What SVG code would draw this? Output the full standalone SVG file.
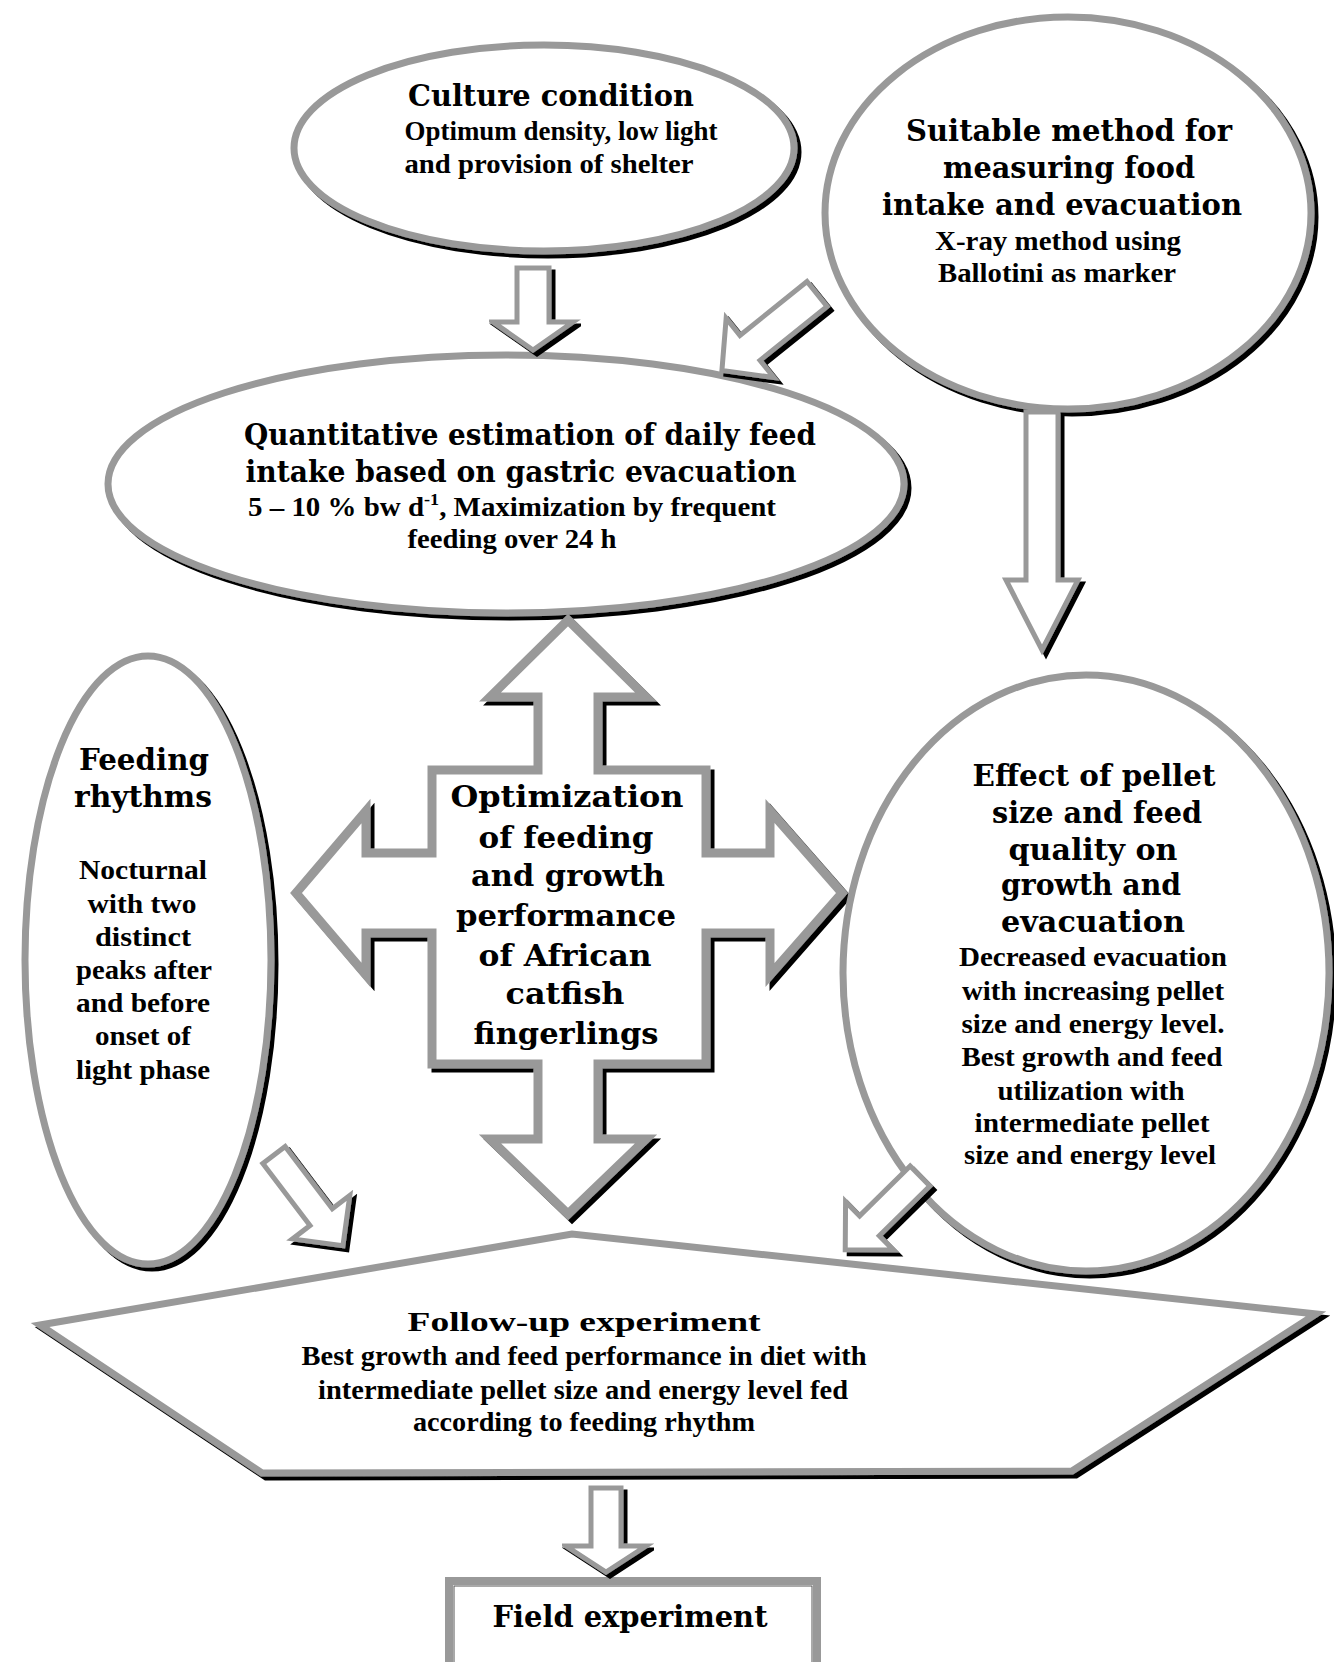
<svg xmlns="http://www.w3.org/2000/svg" width="1334" height="1662" viewBox="0 0 1334 1662">
<defs>
<filter id="sh" x="-5%" y="-5%" width="115%" height="115%">
<feOffset in="SourceAlpha" dx="4" dy="4" result="o"/>
<feMerge><feMergeNode in="o"/><feMergeNode in="SourceGraphic"/></feMerge>
</filter>
<style>
.shape{fill:#fff;stroke:#999;stroke-width:7}
.cross{fill:#fff;stroke:#999;stroke-width:9;stroke-linejoin:miter}
.arrow{fill:#fff;stroke:#999;stroke-width:5;stroke-linejoin:miter}
.h{font-family:"DejaVu Serif","Liberation Serif",serif;font-weight:bold;font-size:29px;text-anchor:middle;fill:#000}
.b{font-family:"Liberation Serif","Times New Roman",serif;font-weight:bold;font-size:27px;text-anchor:middle;fill:#000}
</style>
</defs>
<rect width="1334" height="1662" fill="#fff"/>

<g id="culture">
<ellipse class="shape" cx="544" cy="148" rx="250" ry="103" filter="url(#sh)"/>
<text class="h" x="551" y="106" textLength="286" lengthAdjust="spacingAndGlyphs">Culture condition</text>
<text class="b" x="561" y="140" textLength="313" lengthAdjust="spacingAndGlyphs">Optimum density, low light</text>
<text class="b" x="549" y="173" textLength="289" lengthAdjust="spacingAndGlyphs">and provision of shelter</text>
</g>

<g id="method">
<ellipse class="shape" cx="1068" cy="213" rx="243" ry="196" filter="url(#sh)"/>
<text class="h" x="1069" y="141" textLength="326" lengthAdjust="spacingAndGlyphs">Suitable method for</text>
<text class="h" x="1069" y="178" textLength="252" lengthAdjust="spacingAndGlyphs">measuring food</text>
<text class="h" x="1062" y="215" textLength="360" lengthAdjust="spacingAndGlyphs">intake and evacuation</text>
<text class="b" x="1058" y="250" textLength="246" lengthAdjust="spacingAndGlyphs">X-ray method using</text>
<text class="b" x="1057" y="282" textLength="238" lengthAdjust="spacingAndGlyphs">Ballotini as marker</text>
</g>

<g id="quantitative">
<ellipse class="shape" cx="506" cy="484" rx="398" ry="129" filter="url(#sh)"/>
<text class="h" x="530" y="445" textLength="572" lengthAdjust="spacingAndGlyphs">Quantitative estimation of daily feed</text>
<text class="h" x="521" y="482" textLength="551" lengthAdjust="spacingAndGlyphs">intake based on gastric evacuation</text>
<text class="b" x="512" y="516" textLength="528" lengthAdjust="spacingAndGlyphs">5 – 10 % bw d<tspan dy="-11" font-size="17">-1</tspan><tspan dy="11">, Maximization by frequent</tspan></text>
<text class="b" x="512" y="548" textLength="209" lengthAdjust="spacingAndGlyphs">feeding over 24 h</text>
</g>

<g id="optimization">
<g filter="url(#sh)"><polygon class="cross" points="568,620 646,697 598,697 598,770 706,770 706,853 770,853 770,811 842,893 770,975 770,933 706,933 706,1064 598,1064 598,1139 646,1139 568,1214 490,1139 538,1139 538,1064 432,1064 432,933 366,933 366,975 296,893 366,811 366,853 432,853 432,770 538,770 538,697 490,697"/></g>
<text class="h" x="567" y="807" font-size="31" textLength="233" lengthAdjust="spacingAndGlyphs">Optimization</text>
<text class="h" x="566" y="848" font-size="31" textLength="175" lengthAdjust="spacingAndGlyphs">of feeding</text>
<text class="h" x="568" y="886" font-size="31" textLength="194" lengthAdjust="spacingAndGlyphs">and growth</text>
<text class="h" x="566" y="926" font-size="31" textLength="220" lengthAdjust="spacingAndGlyphs">performance</text>
<text class="h" x="565" y="966" font-size="31" textLength="173" lengthAdjust="spacingAndGlyphs">of African</text>
<text class="h" x="565" y="1004" font-size="31" textLength="119" lengthAdjust="spacingAndGlyphs">catfish</text>
<text class="h" x="566" y="1044" font-size="31" textLength="185" lengthAdjust="spacingAndGlyphs">fingerlings</text>
</g>

<g id="rhythms">
<ellipse class="shape" cx="148" cy="960" rx="123" ry="304" filter="url(#sh)"/>
<text class="h" x="144" y="770" textLength="130" lengthAdjust="spacingAndGlyphs">Feeding</text>
<text class="h" x="143" y="807" textLength="138" lengthAdjust="spacingAndGlyphs">rhythms</text>
<text class="b" x="143" y="879" textLength="128" lengthAdjust="spacingAndGlyphs">Nocturnal</text>
<text class="b" x="142" y="913" textLength="109" lengthAdjust="spacingAndGlyphs">with two</text>
<text class="b" x="143" y="946" textLength="96" lengthAdjust="spacingAndGlyphs">distinct</text>
<text class="b" x="144" y="979" textLength="136" lengthAdjust="spacingAndGlyphs">peaks after</text>
<text class="b" x="143" y="1012" textLength="134" lengthAdjust="spacingAndGlyphs">and before</text>
<text class="b" x="143" y="1045" textLength="96" lengthAdjust="spacingAndGlyphs">onset of</text>
<text class="b" x="143" y="1079" textLength="134" lengthAdjust="spacingAndGlyphs">light phase</text>
</g>

<g id="effect">
<ellipse class="shape" cx="1086" cy="973" rx="243" ry="298" filter="url(#sh)"/>
<text class="h" x="1094" y="786" textLength="243" lengthAdjust="spacingAndGlyphs">Effect of pellet</text>
<text class="h" x="1097" y="823" textLength="210" lengthAdjust="spacingAndGlyphs">size and feed</text>
<text class="h" x="1093" y="860" textLength="169" lengthAdjust="spacingAndGlyphs">quality on</text>
<text class="h" x="1091" y="895" textLength="180" lengthAdjust="spacingAndGlyphs">growth and</text>
<text class="h" x="1093" y="932" textLength="184" lengthAdjust="spacingAndGlyphs">evacuation</text>
<text class="b" x="1093" y="966" textLength="268" lengthAdjust="spacingAndGlyphs">Decreased evacuation</text>
<text class="b" x="1093" y="1000" textLength="262" lengthAdjust="spacingAndGlyphs">with increasing pellet</text>
<text class="b" x="1093" y="1033" textLength="263" lengthAdjust="spacingAndGlyphs">size and energy level.</text>
<text class="b" x="1092" y="1066" textLength="261" lengthAdjust="spacingAndGlyphs">Best growth and feed</text>
<text class="b" x="1091" y="1100" textLength="187" lengthAdjust="spacingAndGlyphs">utilization with</text>
<text class="b" x="1092" y="1132" textLength="235" lengthAdjust="spacingAndGlyphs">intermediate pellet</text>
<text class="b" x="1090" y="1164" textLength="252" lengthAdjust="spacingAndGlyphs">size and energy level</text>
</g>

<g id="followup">
<polygon class="shape" points="40,1325 572,1234 1316,1314 1072,1471 262,1473" filter="url(#sh)"/>
<text class="b" x="584" y="1331" font-size="30" textLength="353" lengthAdjust="spacingAndGlyphs">Follow-up experiment</text>
<text class="b" x="584" y="1365" textLength="565" lengthAdjust="spacingAndGlyphs">Best growth and feed performance in diet with</text>
<text class="b" x="583" y="1399" textLength="530" lengthAdjust="spacingAndGlyphs">intermediate pellet size and energy level fed</text>
<text class="b" x="584" y="1431" textLength="342" lengthAdjust="spacingAndGlyphs">according to feeding rhythm</text>
</g>

<g id="field">
<rect x="449" y="1581" width="368" height="92" fill="#fff" stroke="#999" stroke-width="8"/>
<rect x="454" y="1586" width="358" height="82" fill="none" stroke="#555" stroke-width="1"/>
<text class="h" x="630" y="1627" textLength="275" lengthAdjust="spacingAndGlyphs">Field experiment</text>
</g>

<g id="connectors">
<g filter="url(#sh)"><polygon class="arrow" transform="translate(533,268) rotate(90)" points="0,-16 54,-16 54,-40 82,0 54,40 54,16 0,16"/></g>
<g filter="url(#sh)"><polygon class="arrow" transform="translate(817,294) rotate(141.2)" points="0,-16 86,-16 86,-38 122,0 86,38 86,16 0,16"/></g>
<g filter="url(#sh)"><polygon class="arrow" transform="translate(1042,412) rotate(90)" points="0,-16 168,-16 168,-36 238,0 168,36 168,16 0,16"/></g>
<g filter="url(#sh)"><polygon class="arrow" transform="translate(274,1155) rotate(52.8)" points="0,-14 78,-14 78,-36 114,0 78,36 78,14 0,14"/></g>
<g filter="url(#sh)"><polygon class="arrow" transform="translate(920,1176) rotate(135.4)" points="0,-14 71,-14 71,-34 105,0 71,34 71,14 0,14"/></g>
<g filter="url(#sh)"><polygon class="arrow" transform="translate(606,1488) rotate(90)" points="0,-15 58,-15 58,-40 84,0 58,40 58,15 0,15"/></g>
</g>
</svg>
